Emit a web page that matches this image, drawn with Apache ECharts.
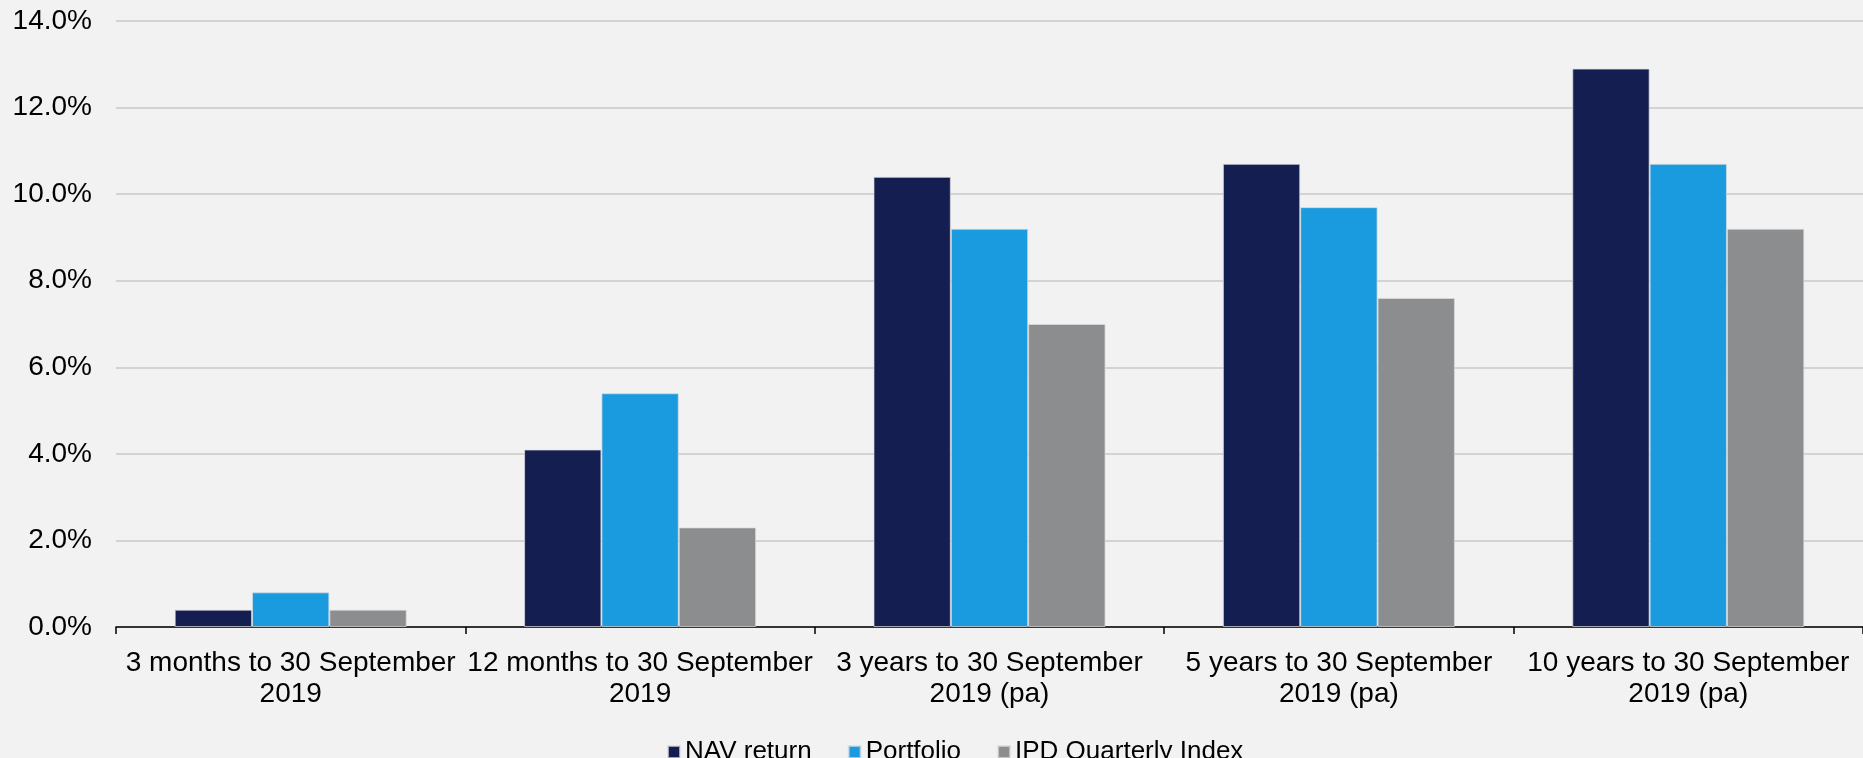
<!DOCTYPE html>
<html>
<head>
    <meta charset="UTF-8">
    <title>Total returns to 30 September 2019</title>
    <script src="https://cdn.jsdelivr.net/npm/echarts@6/dist/echarts.min.js"></script>
    <style>
        html, body { margin: 0; padding: 0; background: #f2f2f2; }
    </style>
</head>
<body>
    <div id="main" style="width: 1863px;height:758px;"></div>
    <script type="text/javascript">
        // categories and values (%)
        var categories = [
            '3 months to 30 September\n2019',
            '12 months to 30 September\n2019',
            '3 years to 30 September\n2019 (pa)',
            '5 years to 30 September\n2019 (pa)',
            '10 years to 30 September\n2019 (pa)'
        ];
        var seriesNames = ['NAV return', 'Portfolio', 'IPD Quarterly Index'];
        var navReturn = [0.4, 4.1, 10.4, 10.7, 12.9];
        var portfolio = [0.8, 5.4, 9.2, 9.7, 10.7];
        var ipdIndex = [0.4, 2.3, 7.0, 7.6, 9.2];
        var colors = ['#141e50', '#1a9be0', '#8c8d8f'];

        var myChart = echarts.init(document.getElementById('main'));

        function bar(name, data, color) {
            return {
                name: name,
                type: 'bar',
                data: data,
                barGap: '0%',
                barCategoryGap: '33.6%',
                itemStyle: {
                    color: color,
                    borderColor: 'rgba(220,220,220,0.7)',
                    borderWidth: 1
                }
            };
        }

        var option = {
            backgroundColor: '#f2f2f2',
            animation: false,
            textStyle: { fontFamily: 'Liberation Sans, Arial, sans-serif' },
            legend: {
                left: 662,
                top: 734,
                itemWidth: 12,
                itemHeight: 12,
                itemGap: 36,
                icon: 'rect',
                textStyle: { fontSize: 26, color: '#000' },
                data: seriesNames
            },
            grid: {
                left: 116,
                top: 21,
                width: 1751.5,
                height: 606,
                containLabel: false
            },
            xAxis: {
                type: 'category',
                data: categories,
                axisLine: { lineStyle: { color: '#000', width: 1.5 } },
                axisTick: { show: true, length: 7, lineStyle: { color: '#000', width: 1.5 } },
                axisLabel: {
                    fontSize: 28,
                    color: '#000',
                    lineHeight: 31,
                    margin: 21,
                    interval: 0
                }
            },
            yAxis: {
                type: 'value',
                min: 0,
                max: 14,
                interval: 2,
                axisLine: { show: false },
                axisTick: { show: false },
                splitLine: { lineStyle: { color: '#c8c8c8', width: 1.5 } },
                axisLabel: {
                    fontSize: 28,
                    color: '#000',
                    margin: 24,
                    formatter: function (v) { return v.toFixed(1) + '%'; }
                }
            },
            series: [
                bar(seriesNames[0], navReturn, colors[0]),
                bar(seriesNames[1], portfolio, colors[1]),
                bar(seriesNames[2], ipdIndex, colors[2])
            ]
        };

        myChart.setOption(option);
    </script>
</body>
</html>
